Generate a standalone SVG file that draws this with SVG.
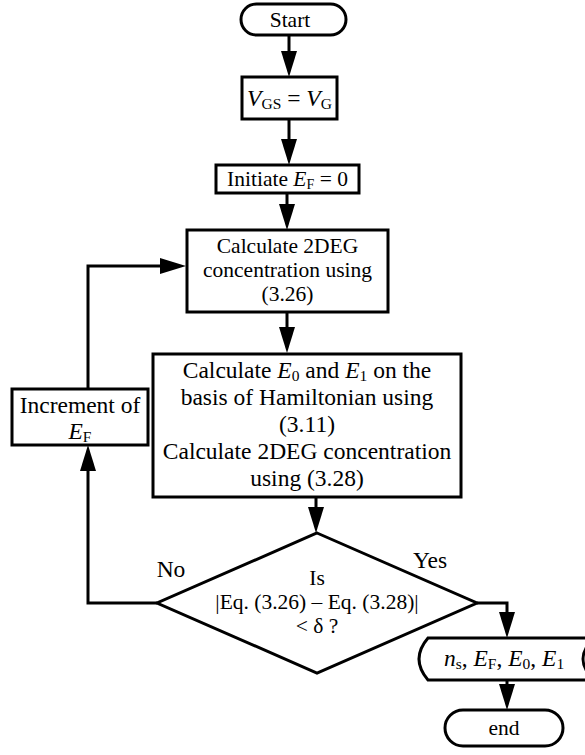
<svg xmlns="http://www.w3.org/2000/svg" width="585" height="755" viewBox="0 0 585 755">
<defs>
<marker id="ah" viewBox="0 0 26 16" refX="16" refY="8" markerWidth="26" markerHeight="16" markerUnits="userSpaceOnUse" orient="auto"><path d="M0,0 L26,8 L0,16 z" fill="#000"/></marker>
<style>
.b{fill:#fff;stroke:#000;stroke-width:3}
.c{fill:none;stroke:#000;stroke-width:3;marker-end:url(#ah)}
text{font-family:"Liberation Serif","Times New Roman",Times,serif;font-size:21.5px;fill:#000;text-anchor:middle}
.l{font-size:23.5px}
.i{font-style:italic}
.s{font-size:14px}
.s2{font-size:15.5px}
</style>
</defs>
<rect width="585" height="755" fill="#fff"/>
<g id="connectors">
<path class="c" d="M289,35 V67"/>
<path class="c" d="M289,119 V155"/>
<path class="c" d="M287,193 V220"/>
<path class="c" d="M287,312 V343"/>
<path class="c" d="M316,497 V523"/>
<path class="c" d="M157,603 H88 V455"/>
<path class="c" d="M88,389 V266 H176"/>
<path class="c" d="M477,603 H507 V628"/>
<path class="c" d="M507,680 V700"/>
</g>
<g id="start">
<rect class="b" x="241" y="4" width="105" height="31" rx="15.5"/>
<text x="290" y="27">Start</text>
</g>
<g id="vgs">
<rect class="b" x="242" y="77" width="95" height="42"/>
<text class="l" x="289.5" y="106"><tspan class="i">V</tspan><tspan class="s2" dy="3">GS</tspan><tspan dy="-3"> = </tspan><tspan class="i">V</tspan><tspan class="s2" dy="3">G</tspan></text>
</g>
<g id="initiate">
<rect class="b" x="216" y="165" width="143" height="28"/>
<text x="287.5" y="186">Initiate <tspan class="i">E</tspan><tspan class="s" dy="3">F</tspan><tspan dy="-3"> = 0</tspan></text>
</g>
<g id="calc1">
<rect class="b" x="187" y="230" width="201" height="82"/>
<text x="287.5" y="253">Calculate 2DEG</text>
<text x="287.5" y="277">concentration using</text>
<text x="287.5" y="301">(3.26)</text>
</g>
<g id="calc2">
<rect class="b" x="153" y="354" width="308" height="143"/>
<text class="l" x="307" y="378">Calculate <tspan class="i">E</tspan><tspan class="s2" dy="3">0</tspan><tspan dy="-3"> and </tspan><tspan class="i">E</tspan><tspan class="s2" dy="3">1</tspan><tspan dy="-3"> on the</tspan></text>
<text class="l" x="307" y="405">basis of Hamiltonian using</text>
<text class="l" x="307" y="432">(3.11)</text>
<text class="l" x="307" y="459">Calculate 2DEG concentration</text>
<text class="l" x="307" y="486">using (3.28)</text>
</g>
<g id="increment">
<rect class="b" x="12" y="389" width="136" height="56"/>
<text class="l" x="80" y="413">Increment of</text>
<text class="l" x="80" y="439"><tspan class="i">E</tspan><tspan class="s2" dy="3">F</tspan></text>
</g>
<g id="decision">
<polygon class="b" points="317,533 477,603 317,673 157,603"/>
<text x="317" y="585">Is</text>
<text x="317" y="609">|Eq. (3.26) – Eq. (3.28)|</text>
<text x="317" y="633">&lt; δ ?</text>
</g>
<g id="labels">
<text class="l" x="430" y="568">Yes</text>
<text class="l" x="171" y="577">No</text>
</g>
<g id="output">
<path class="b" d="M428,638 L594,638 Q572,659 594,680 L428,680 Q410,659 428,638 Z"/>
<text class="l" x="504" y="666"><tspan class="i">n</tspan><tspan class="s2" dy="3">s</tspan><tspan dy="-3">, </tspan><tspan class="i">E</tspan><tspan class="s2" dy="3">F</tspan><tspan dy="-3">, </tspan><tspan class="i">E</tspan><tspan class="s2" dy="3">0</tspan><tspan dy="-3">, </tspan><tspan class="i">E</tspan><tspan class="s2" dy="3">1</tspan></text>
</g>
<g id="end">
<rect class="b" x="445" y="710" width="118" height="36" rx="18"/>
<text x="504" y="735">end</text>
</g>
</svg>
